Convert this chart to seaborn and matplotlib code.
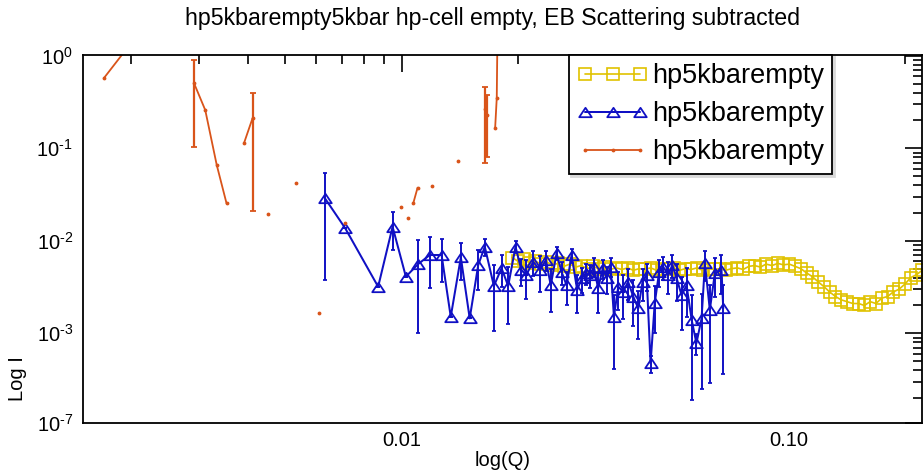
import numpy as np
import pandas as pd
import matplotlib
matplotlib.use('Agg')
import matplotlib.pyplot as plt
import seaborn as sns
from matplotlib.ticker import FixedLocator, FixedFormatter, LogLocator, NullFormatter
from matplotlib.lines import Line2D
from matplotlib.path import Path

# ---------------- data ----------------
TITLE = 'hp5kbarempty5kbar hp-cell empty, EB Scattering subtracted'
x_label = 'log(Q)'
y_label = 'Log I'
series_labels = ['hp5kbarempty', 'hp5kbarempty', 'hp5kbarempty']

x_ticks = [0.01, 0.1]
x_tick_labels = ['0.01', '0.10']
y_ticks = [1.08e-4, 1e-3, 1e-2, 1e-1, 1.0]
y_tick_labels = [r'$10^{\text{-}7}$', r'$10^{\text{-}3}$', r'$10^{\text{-}2}$',
                 r'$10^{\text{-}1}$', r'$10^{0}$']

# yellow series (squares)
yel_q = [0.0193, 0.0200, 0.0207, 0.0214, 0.0221, 0.0229, 0.0237, 0.0245, 0.0254, 0.0263,
         0.0272, 0.0282, 0.0291, 0.0302, 0.0312, 0.0323, 0.0334, 0.0346, 0.0358, 0.0371,
         0.0384, 0.0397, 0.0411, 0.0425, 0.0440, 0.0456, 0.0472, 0.0488, 0.0505, 0.0523,
         0.0541, 0.0560, 0.0580, 0.0600, 0.0621, 0.0643, 0.0665, 0.0688, 0.0712, 0.0737,
         0.0763, 0.0790, 0.0817, 0.0846, 0.0875, 0.0906, 0.0938, 0.0970, 0.1004, 0.1039,
         0.1076, 0.1113, 0.1152, 0.1193, 0.1234, 0.1277, 0.1322, 0.1368, 0.1416, 0.1466,
         0.1517, 0.1570, 0.1625, 0.1682, 0.1741, 0.1802, 0.1865, 0.1930, 0.1998, 0.2068,
         0.2140, 0.2215]
yel_I = [0.0066, 0.0060, 0.0063, 0.0058, 0.0061, 0.0056, 0.0059, 0.0055, 0.0057, 0.0053,
         0.0056, 0.0052, 0.0054, 0.0050, 0.0053, 0.0050, 0.0052, 0.0049, 0.0051, 0.0049,
         0.0051, 0.0048, 0.0050, 0.0049, 0.0051, 0.0048, 0.0050, 0.0049, 0.0051, 0.0048,
         0.0050, 0.0049, 0.0051, 0.0048, 0.0050, 0.0049, 0.0050, 0.0048, 0.0050, 0.0051,
         0.0049, 0.0053, 0.0054, 0.0052, 0.0056, 0.0054, 0.0057, 0.0055, 0.0056, 0.0053,
         0.0050, 0.0045, 0.0041, 0.0036, 0.0032, 0.0028, 0.0025, 0.0023, 0.0022, 0.0021,
         0.0021, 0.0020, 0.0022, 0.0021, 0.0024, 0.0025, 0.0028, 0.0030, 0.0034, 0.0040,
         0.0043, 0.0048]

# blue series (triangles, with error bars)
blu_q = [0.00634, 0.00715, 0.00870, 0.00948, 0.01026, 0.01104, 0.01183, 0.01269, 0.01340, 0.01423,
         0.01500, 0.01578, 0.01641, 0.01732, 0.01813, 0.01886, 0.01970, 0.02040, 0.02100, 0.02188,
         0.02280, 0.02360, 0.02430, 0.02515, 0.02590, 0.02670, 0.02750, 0.02843, 0.02920, 0.02990,
         0.03066, 0.03140, 0.03220, 0.03310, 0.03390, 0.03470, 0.03538, 0.03630, 0.03737, 0.03850,
         0.03970, 0.04090, 0.04195, 0.04297, 0.04400, 0.04510, 0.04631, 0.04740, 0.04890, 0.05010,
         0.05140, 0.05290, 0.05450, 0.05620, 0.05780, 0.05960, 0.06080, 0.06260, 0.06450, 0.06710,
         0.06780]
blu_I = [0.0288, 0.0137, 0.00319, 0.0142, 0.0041, 0.00561, 0.00702, 0.00702, 0.00151, 0.00663,
         0.00145, 0.00547, 0.00863, 0.00325, 0.00505, 0.00325, 0.00863, 0.00483, 0.00427, 0.00594,
         0.00483, 0.0062, 0.0033, 0.00733, 0.00464, 0.0033, 0.00702, 0.00294, 0.00393, 0.00446,
         0.00427, 0.00525, 0.00306, 0.00505, 0.00393, 0.00525, 0.00151, 0.00319, 0.00282, 0.00361,
         0.00249, 0.00186, 0.00361, 0.00427, 0.000474, 0.00211, 0.00464, 0.00525, 0.00427, 0.0055,
         0.00393, 0.00259, 0.0033, 0.00139, 0.00078, 0.00145, 0.00571, 0.00179, 0.00446, 0.00483,
         0.00186]
blu_err = [0.025, 0.0, 0.0, 0.0062, 0.0, 0.0046, 0.0039, 0.0034, 0.0, 0.0029,
           0.0, 0.0025, 0.0018, 0.0022, 0.0019, 0.0020, 0.0013, 0.0016, 0.0019, 0.0018,
           0.0020, 0.0015, 0.0016, 0.0012, 0.0013, 0.0013, 0.0012, 0.0013, 0.0012, 0.0011,
           0.0012, 0.0012, 0.0014, 0.0012, 0.0013, 0.0012, 0.0011, 0.0014, 0.0014, 0.0013,
           0.0013, 0.0010, 0.0014, 0.0014, 0.0001, 0.0011, 0.0015, 0.0015, 0.0016, 0.0015,
           0.0017, 0.0015, 0.0018, 0.0012, 0.0002, 0.0012, 0.0020, 0.0015, 0.0020, 0.0022,
           0.0015]

# orange series (line with dots, error bars); nan = not shown (non-positive)
nan = float('nan')
org_q = [0.00170, 0.00198, 0.00260, 0.00291, 0.00311, 0.00333, 0.00353, 0.00372, 0.00392, 0.00412,
         0.00432, 0.00453, 0.00493, 0.00533, 0.00572, 0.00612, 0.00660, 0.00715, 0.00850, 0.00996,
         0.01020, 0.01040, 0.01056, 0.01072, 0.01100, 0.01150, 0.01198, 0.01300, 0.01400, 0.01550,
         0.01642, 0.01659, 0.01700, 0.01745, 0.01762, 0.01770, 0.01800]
org_I = [0.571, 1.30, nan, 0.504, 0.259, 0.066, 0.0254, nan, 0.115, 0.211,
         nan, 0.0195, nan, 0.0425, nan, 0.00164, nan, 0.0157, nan, 0.0234,
         nan, 0.0175, nan, 0.0254, 0.0375, nan, 0.0391, nan, 0.0729, nan,
         0.266, 0.229, nan, 0.165, 0.350, 2.0, nan]
org_err = [nan, nan, nan, 0.40, nan, nan, nan, nan, nan, 0.19,
           nan, nan, nan, nan, nan, nan, nan, nan, nan, nan,
           nan, nan, nan, nan, nan, nan, nan, nan, nan, nan,
           0.197, 0.148, nan, nan, nan, nan, nan]

# ---------------- style ----------------
sns.set_style('white')
plt.rcParams['font.family'] = ['Liberation Sans', 'DejaVu Sans']
plt.rcParams['mathtext.fontset'] = 'custom'
plt.rcParams['mathtext.rm'] = 'Liberation Sans'
plt.rcParams['mathtext.it'] = 'Liberation Sans:italic'
plt.rcParams['mathtext.bf'] = 'Liberation Sans:bold'
plt.rcParams['mathtext.default'] = 'regular'
for key in ['text.color', 'axes.labelcolor', 'xtick.color', 'ytick.color',
            'xtick.labelcolor', 'ytick.labelcolor']:
    plt.rcParams[key] = 'black'

YEL = '#E0C200'
BLU = '#1010C4'
ORG = '#D9541A'

fig = plt.figure(figsize=(9.23, 4.72), dpi=100)
ax = fig.add_axes([0.0896, 0.1044, 0.9093, 0.7797])
ax.set_xscale('log')
ax.set_yscale('log')

tri = Path([(0, 0.75), (-1, -0.75), (1, -0.75), (0, 0.75)],
           [Path.MOVETO, Path.LINETO, Path.LINETO, Path.CLOSEPOLY])

df_y = pd.DataFrame({'q': yel_q, 'I': yel_I})
sns.lineplot(data=df_y, x='q', y='I', ax=ax, estimator=None, sort=False,
             color=YEL, linewidth=1.2, marker='s', markersize=9.2,
             markerfacecolor='none', markeredgecolor=YEL, markeredgewidth=1.2,
             legend=False)

ax.errorbar(blu_q, blu_I, yerr=blu_err, color=BLU, linewidth=1.45, marker=tri,
            markersize=9, markerfacecolor='none', markeredgecolor=BLU,
            markeredgewidth=1.3, ecolor=BLU, elinewidth=1.4, capsize=1.6, capthick=1.2)

ax.errorbar(org_q, org_I, yerr=org_err, color=ORG, linewidth=1.3, marker='.',
            markersize=3.5, ecolor=ORG, elinewidth=1.6, capsize=2.2, capthick=1.3)

ax.set_xlim(0.0015, 0.2212)
ax.set_ylim(1.08e-4, 1.028)

ax.xaxis.set_major_locator(FixedLocator(x_ticks))
ax.xaxis.set_major_formatter(FixedFormatter(x_tick_labels))
ax.xaxis.set_minor_locator(LogLocator(base=10, subs=np.arange(2, 10)))
ax.xaxis.set_minor_formatter(NullFormatter())
ax.yaxis.set_major_locator(FixedLocator(y_ticks))
ax.yaxis.set_major_formatter(FixedFormatter(y_tick_labels))
ax.yaxis.set_minor_locator(LogLocator(base=10, subs=np.arange(2, 10)))
ax.yaxis.set_minor_formatter(NullFormatter())

ax.tick_params(which='both', direction='in', top=True, right=True,
               width=1.2, color='black', labelsize=14.5, labelcolor='black')
ax.tick_params(which='major', length=12.5)
ax.tick_params(which='minor', length=6.5)
ax.tick_params(axis='y', which='major', pad=7)
ax.tick_params(axis='x', which='major', pad=6)
for s in ax.spines.values():
    s.set_linewidth(1.3)
    s.set_color('black')

ax.set_xlabel(x_label, fontsize=14.5, labelpad=1, color='black')
ax.set_ylabel(y_label, fontsize=14.5, color='black')
ax.yaxis.set_label_coords(-0.066, 0.121)

fig.text(493 / 923, 1 - 18 / 472, TITLE, ha='center', va='center', fontsize=16.7,
         color='black')

handles = [
    Line2D([], [], color=YEL, linewidth=1.2, marker='s', markersize=9.2,
           markerfacecolor='none', markeredgecolor=YEL, markeredgewidth=1.2),
    Line2D([], [], color=BLU, linewidth=1.45, marker=tri, markersize=9,
           markerfacecolor='none', markeredgecolor=BLU, markeredgewidth=1.3),
    Line2D([], [], color=ORG, linewidth=1.3, marker='.', markersize=3.5),
]
leg = ax.legend(handles, series_labels, loc='upper left', bbox_to_anchor=(0.579, 1.0),
                borderaxespad=0, fontsize=19.5, numpoints=3, handlelength=2.6,
                handletextpad=0.15, borderpad=0.32, labelspacing=0.44, fancybox=False,
                frameon=True, shadow={'color': '0.85', 'alpha': 1.0})
leg.get_frame().set_edgecolor('black')
leg.get_frame().set_linewidth(1.3)
for t in leg.get_texts():
    t.set_color('black')

fig.savefig('out.png', dpi=100)
